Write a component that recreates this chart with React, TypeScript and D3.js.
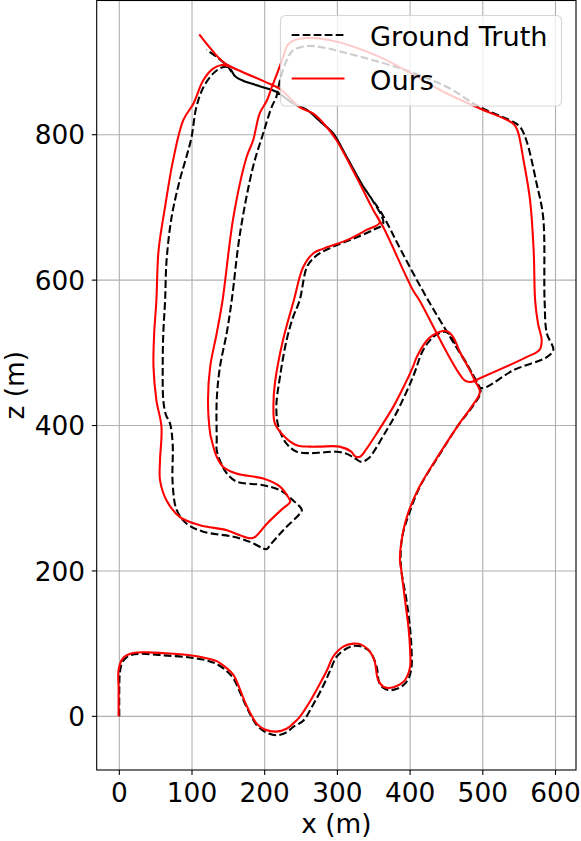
import React, { useEffect, useRef } from 'react';
import * as d3 from 'd3';

// trajectory, ground truth (x, z in metres)
const gtX = [0, 0, 1, 5, 15, 30, 60, 97, 120, 134, 148, 157, 166, 175, 189, 200, 216, 230, 240, 253, 266, 280, 290, 299, 312, 324, 336, 345, 354, 358, 365, 372, 382, 391, 398, 402, 402, 400, 395, 388, 387, 390, 397, 413, 441, 468, 485, 497,
  488, 478, 466, 455, 448, 440, 432, 418, 404, 381, 362, 350, 343, 333, 324, 313, 299, 280, 262, 244, 230, 219, 216, 221, 230, 239, 248, 258, 267, 276, 294, 322, 349, 363,
  347, 336, 313, 294, 280, 258, 239, 216, 189, 161, 150,
  140, 129, 116, 106, 99, 91, 83, 72, 65, 63, 60.5, 59.7, 60.5, 64, 69.7, 73.4, 73.4, 78.9, 92.7, 115.5, 157, 179.7, 198, 203, 207, 225.5, 248.5, 251, 239, 221, 198, 161, 148, 141, 134, 134, 134, 138.5, 147.7, 154.6, 166, 184, 198, 209.5, 216, 221, 230, 239, 258, 280, 313, 381, 450, 496, 537, 551, 560, 574, 583, 585, 588, 597, 588, 542, 505, 496, 491, 425, 388, 362, 336, 313, 294, 280, 258, 239, 216, 189, 161, 148, 134, 120];
const gtZ = [0, 40, 62, 76, 84, 86, 84, 81, 77, 72, 62, 52, 33, 13, -12, -21, -26, -22, -14, -6, 15, 41, 63, 82, 93, 97, 95, 89, 68, 45, 38, 36, 38, 43, 52, 68, 91, 120, 160, 200, 225, 251, 274, 315, 361, 403, 425, 447,
  466, 485, 505, 525, 529, 527, 522, 504, 467, 417, 384, 364, 355, 350, 355, 361, 364, 363, 362, 364, 375, 398, 426, 467, 517, 549, 572, 618, 630, 637, 646, 657, 669, 678,
  712, 728, 769, 802, 815, 834, 843, 859, 868, 879, 893,
  892, 884, 866, 838, 795, 765, 737, 687, 627, 572, 527, 481, 435, 415, 403, 375, 320, 284, 265, 254, 247, 240, 231, 230, 235, 256, 279, 284, 297, 311, 318, 323, 334, 346, 366, 380, 435, 481, 527, 572, 664, 756, 802, 838, 852, 875, 902, 916, 922, 920, 912, 893, 866, 838, 820, 811, 792, 733, 687, 572, 527, 504, 494, 476, 453, 452, 462, 572, 640, 690, 728, 769, 802, 815, 834, 843, 859, 868, 879, 895, 907, 917];

// trajectory, estimated ("Ours")
const oursX = [-1, -1, -1, 5, 19, 40, 60, 97, 120, 134, 148, 157, 166, 175, 189, 200, 216, 230, 239, 248, 262, 276, 286, 294, 308, 322, 332, 340, 346, 351, 356, 363, 370, 377, 386, 393, 400, 400, 398, 393, 388, 386, 390, 397, 413, 441, 468, 484, 496,
  489, 480, 469, 459, 450, 441, 431, 423, 409, 404, 392, 377, 354, 340, 331, 324, 319, 303, 276, 262, 244, 228, 214, 212, 214, 225, 240, 253, 267, 280, 313, 340, 358,
  350, 326, 299, 285, 267, 248, 221, 200, 170, 150, 141,
  129, 115.5, 102, 88, 74, 63, 54, 51, 48, 47, 51, 58, 56, 56, 65, 83.5, 111, 148, 166, 180, 187, 203, 225, 235, 232, 221, 198, 161, 143, 134, 127, 125, 122, 125, 134, 142, 157, 175, 184, 193, 203, 210, 217, 224, 233, 248, 290, 358, 450, 496, 542, 548, 556, 565, 570, 572, 576, 581, 578, 560, 496, 484, 475, 413, 404, 363, 350, 326, 299, 285, 267, 248, 221, 200, 170, 143, 126, 110];
const oursZ = [0, 40, 64, 80, 87, 88, 87, 84, 80, 76, 66, 57, 37, 15, -10, -18, -21, -17, -10, -1, 20, 45, 64, 82, 96, 100, 99, 94, 87, 77, 50, 41, 39, 40, 44, 50, 68, 91, 120, 160, 200, 215, 252, 279, 316, 362, 403, 425, 446,
  462, 480, 500, 522, 530, 529, 524, 517, 494, 481, 455, 426, 389, 368, 357, 358, 364, 371, 371, 371, 373, 384, 403, 426, 458, 517, 572, 618, 637, 643, 655, 669, 679,
  695, 742, 792, 811, 829, 838, 863, 873, 886, 894, 896,
  891, 875, 843, 820, 765, 701, 641, 572, 527, 481, 435, 398, 352, 325, 297, 274, 263, 256, 249, 245, 247, 265, 286, 295, 302, 316, 327, 334, 343, 357, 380, 389, 435, 481, 527, 572, 687, 769, 792, 829, 847, 866, 884, 903, 925, 932, 930, 907, 857, 836, 815, 805, 765, 710, 640, 572, 540, 517, 504, 494, 465, 460, 462, 572, 586, 673, 695, 742, 792, 811, 829, 838, 863, 873, 886, 900, 918, 938];

const xTicks = [0, 100, 200, 300, 400, 500, 600];
const zTicks = [0, 200, 400, 600, 800];
const seriesNames = ['Ground Truth', 'Ours'];

const W = 581;
const H = 841;
const FONT = 'DejaVu Sans, sans-serif';

const App = () => {
  const svgRef = useRef(null);

  useEffect(() => {
    const svg = d3.select(svgRef.current);
    svg.selectAll('*').remove();

    const left = 96.7, right = 576, top = 0.5, bottom = 770;
    const x = d3.scaleLinear().domain([-31.1, 628.2]).range([left, right]);
    const y = d3.scaleLinear().domain([-73.8, 984.6]).range([bottom, top]);

    svg.append('rect').attr('width', W).attr('height', H).attr('fill', 'white');

    svg.append('defs').append('clipPath').attr('id', 'plot-clip')
      .append('rect').attr('x', left).attr('y', top)
      .attr('width', right - left).attr('height', bottom - top);

    // grid
    const grid = svg.append('g').attr('stroke', '#b0b0b0').attr('stroke-width', 1.1);
    xTicks.forEach(t => {
      grid.append('line').attr('x1', x(t)).attr('x2', x(t)).attr('y1', top).attr('y2', bottom);
    });
    zTicks.forEach(t => {
      grid.append('line').attr('x1', left).attr('x2', right).attr('y1', y(t)).attr('y2', y(t));
    });

    const line = d3.line()
      .x(d => x(d[0]))
      .y(d => y(d[1]))
      .curve(d3.curveCatmullRom.alpha(0.5));

    const gtPts = gtX.map((v, i) => [v, gtZ[i]]);
    const oursPts = oursX.map((v, i) => [v, oursZ[i]]);

    const plot = svg.append('g').attr('clip-path', 'url(#plot-clip)');
    plot.append('path')
      .datum(gtPts)
      .attr('d', line)
      .attr('fill', 'none')
      .attr('stroke', 'black')
      .attr('stroke-width', 2.08)
      .attr('stroke-dasharray', '7.7,3.3')
      .attr('stroke-linejoin', 'round');
    plot.append('path')
      .datum(oursPts)
      .attr('d', line)
      .attr('fill', 'none')
      .attr('stroke', '#ff0000')
      .attr('stroke-width', 2.08)
      .attr('stroke-linejoin', 'round');

    // frame
    svg.append('rect')
      .attr('x', left).attr('y', top)
      .attr('width', right - left).attr('height', bottom - top)
      .attr('fill', 'none').attr('stroke', 'black').attr('stroke-width', 1.1);

    // ticks + labels
    const axes = svg.append('g').attr('font-family', FONT).attr('font-size', 26.4).attr('fill', 'black');
    xTicks.forEach(t => {
      axes.append('line').attr('x1', x(t)).attr('x2', x(t)).attr('y1', bottom).attr('y2', bottom + 4.9)
        .attr('stroke', 'black').attr('stroke-width', 1.1);
      axes.append('text').attr('x', x(t)).attr('y', 802).attr('text-anchor', 'middle').text(t);
    });
    zTicks.forEach(t => {
      axes.append('line').attr('x1', left - 4.9).attr('x2', left).attr('y1', y(t)).attr('y2', y(t))
        .attr('stroke', 'black').attr('stroke-width', 1.1);
      axes.append('text').attr('x', 85).attr('y', y(t) + 9.6).attr('text-anchor', 'end').text(t);
    });
    axes.append('text').attr('x', (left + right) / 2).attr('y', 833).attr('text-anchor', 'middle').text('x (m)');
    axes.append('text').attr('transform', `translate(24,${(top + bottom) / 2}) rotate(-90)`)
      .attr('text-anchor', 'middle').text('z (m)');

    // legend
    const lg = svg.append('g');
    lg.append('rect')
      .attr('x', 280.5).attr('y', 15.5).attr('width', 281).attr('height', 90.5).attr('rx', 5)
      .attr('fill', 'white').attr('fill-opacity', 0.8)
      .attr('stroke', '#cccccc').attr('stroke-opacity', 0.8).attr('stroke-width', 1.1);
    const rows = [
      { y: 35, stroke: 'black', dash: '7.7,3.3' },
      { y: 78.5, stroke: '#ff0000', dash: null },
    ];
    rows.forEach((r, i) => {
      lg.append('line')
        .attr('x1', 291.7).attr('x2', 344.5).attr('y1', r.y).attr('y2', r.y)
        .attr('stroke', r.stroke).attr('stroke-width', 2.08)
        .attr('stroke-dasharray', r.dash);
      lg.append('text')
        .attr('x', 370).attr('y', r.y + 11)
        .attr('font-family', FONT).attr('font-size', 27.2)
        .text(seriesNames[i]);
    });
  }, []);

  return (
    <div style={{ position: 'absolute', left: 0, top: 0 }}>
      <svg ref={svgRef} width={W} height={H} style={{ display: 'block' }}></svg>
    </div>
  );
};

export default App;
